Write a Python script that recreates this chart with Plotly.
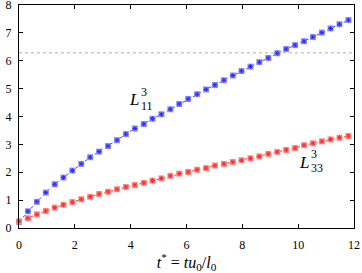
import plotly.graph_objects as go

t = [0.00, 0.32, 0.64, 0.96, 1.28, 1.59, 1.91, 2.23, 2.55, 2.87, 3.19, 3.51, 3.83,
     4.15, 4.47, 4.78, 5.10, 5.42, 5.74, 6.06, 6.38, 6.70, 7.02, 7.34, 7.66, 7.97,
     8.29, 8.61, 8.93, 9.25, 9.57, 9.89, 10.21, 10.53, 10.85, 11.16, 11.48, 11.80]
L11 = [0.22, 0.60, 0.94, 1.27, 1.57, 1.81, 2.06, 2.30, 2.54, 2.74, 2.94, 3.15, 3.37,
       3.57, 3.73, 3.92, 4.08, 4.26, 4.45, 4.63, 4.80, 4.97, 5.13, 5.30, 5.47, 5.63,
       5.79, 5.95, 6.10, 6.27, 6.42, 6.56, 6.70, 6.85, 7.01, 7.16, 7.31, 7.46]
L33 = [0.24, 0.35, 0.49, 0.61, 0.73, 0.83, 0.93, 1.03, 1.12, 1.22, 1.30, 1.39, 1.47,
       1.54, 1.62, 1.70, 1.78, 1.87, 1.95, 2.01, 2.09, 2.15, 2.24, 2.30, 2.37, 2.43,
       2.50, 2.57, 2.66, 2.73, 2.80, 2.87, 2.97, 3.04, 3.11, 3.18, 3.24, 3.30]
ref_level = 6.283
x_ticks = [0, 2, 4, 6, 8, 10, 12]
y_ticks = [0, 1, 2, 3, 4, 5, 6, 7, 8]

FONT = "Liberation Serif"
fig = go.Figure()

for y, line_c, fill_c, dark_c in [(L11, "#3b3bff", "#8f8fff", "#2a2aff"),
                                  (L33, "#ff3b3b", "#ff8f8f", "#ff2a2a")]:
    fig.add_trace(go.Scatter(x=t, y=y, mode="lines+markers",
                             line=dict(color=line_c, width=1, dash="dot"),
                             marker=dict(symbol="square", size=6, color=fill_c,
                                         line=dict(width=0)),
                             showlegend=False, hoverinfo="skip", cliponaxis=False))
    fig.add_trace(go.Scatter(x=t, y=y, mode="markers",
                             marker=dict(symbol="asterisk-open", size=4, color=dark_c,
                                         line=dict(color=dark_c, width=1)),
                             showlegend=False, hoverinfo="skip", cliponaxis=False))

fig.add_shape(type="line", xref="x", yref="y", x0=0, x1=12, y0=ref_level, y1=ref_level,
              line=dict(color="#b0b0b0", width=1, dash="dot"), layer="below")

def label(x, y, main, sup, sub):
    fig.add_annotation(x=x, y=y, text="<i>%s</i>" % main, showarrow=False,
                       font=dict(family=FONT, size=17, color="black"))
    fig.add_annotation(x=x, y=y, text=sup, showarrow=False, xanchor="left",
                       xshift=5, yshift=8, font=dict(family=FONT, size=12, color="black"))
    fig.add_annotation(x=x, y=y, text=sub, showarrow=False, xanchor="left",
                       xshift=5, yshift=-6, font=dict(family=FONT, size=12, color="black"))

label(4.12, 4.6, "L", "3", "11")
label(10.2, 2.36, "L", "3", "33")

axis_common = dict(showline=True, linecolor="black", linewidth=1, mirror="allticks",
                   ticks="inside", ticklen=4, tickcolor="black", showgrid=False,
                   zeroline=False, automargin=False, ticklabeloverflow="allow",
                   tickfont=dict(family=FONT, size=12, color="black"))

fig.update_xaxes(range=[0, 12], tickvals=x_ticks, ticklabelstandoff=6,
                 title=dict(text="<i>t</i><sup>*</sup> = <i>tu</i><sub>0</sub>/<i>l</i><sub>0</sub>",
                            font=dict(family=FONT, size=16, color="black"), standoff=0),
                 **axis_common)
fig.update_yaxes(range=[0, 8], tickvals=y_ticks, ticklabelstandoff=4, **axis_common)

fig.update_layout(width=362, height=273, margin=dict(l=19, r=8, t=5, b=45),
                  paper_bgcolor="white", plot_bgcolor="white")

fig.write_html("out.html", config={"displayModeBar": False, "staticPlot": True},
               post_script="document.body.style.margin='0';document.body.style.overflow='hidden';")
